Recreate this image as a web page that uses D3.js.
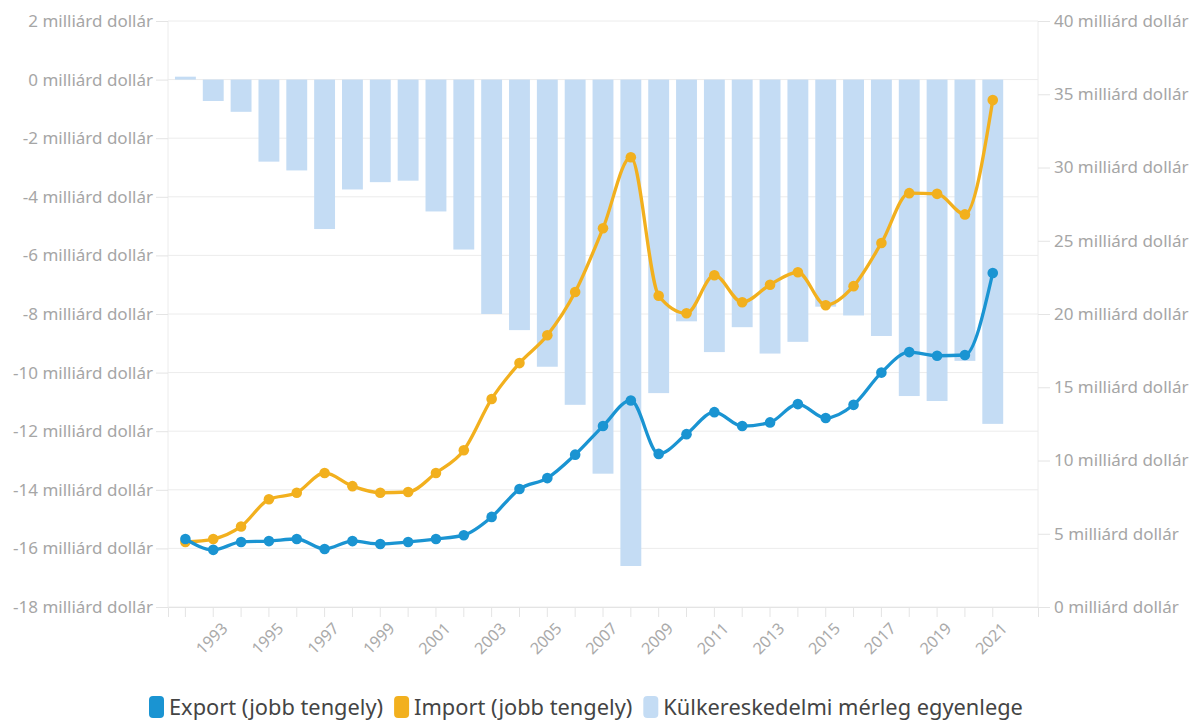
<!DOCTYPE html>
<html>
<head>
<meta charset="utf-8">
<script src="https://cdn.jsdelivr.net/npm/d3@7"></script>
<style>
  body { margin: 0; background: #fff; }
  svg { display: block; font-family: "Noto Sans", sans-serif; }
</style>
</head>
<body>
<svg id="chart" width="1191" height="720"></svg>
<script>
// years on the category axis (one empty slot after 2021, as in the original)
const years = d3.range(1992, 2022);
const xSlots = d3.range(1992, 2023);

// trade balance, billion USD (left axis)
const balance = [0.1, -0.73, -1.1, -2.8, -3.1, -5.1, -3.75, -3.5, -3.45, -4.5,
  -5.8, -8.0, -8.55, -9.8, -11.1, -13.45, -16.6, -10.7, -8.25, -9.3,
  -8.45, -9.35, -8.95, -7.75, -8.05, -8.75, -10.8, -10.97, -9.6, -11.75];

// export / import, billion USD (right axis)
const exportVals = [4.64, 3.9, 4.44, 4.5, 4.64, 3.96, 4.5, 4.3, 4.44, 4.64,
  4.9, 6.15, 8.05, 8.8, 10.4, 12.35, 14.1, 10.45, 11.8, 13.3,
  12.35, 12.6, 13.85, 12.9, 13.8, 16.0, 17.4, 17.15, 17.2, 22.8];
const importVals = [4.44, 4.64, 5.5, 7.35, 7.8, 9.15, 8.25, 7.8, 7.85, 9.15,
  10.7, 14.2, 16.65, 18.55, 21.5, 25.85, 30.7, 21.25, 20.05, 22.65,
  20.8, 22.0, 22.85, 20.6, 21.9, 24.85, 28.25, 28.2, 26.8, 34.6];

const leftTicks = d3.range(-18, 3, 2);
const rightTicks = d3.range(0, 41, 5);
const legendItems = [
  { label: "Export (jobb tengely)", color: "#1a94d2" },
  { label: "Import (jobb tengely)", color: "#f2b01e" },
  { label: "Külkereskedelmi mérleg egyenlege", color: "#c4dcf4" }
];

const margin = { top: 21, left: 168, right: 1038, bottom: 607 };
const svg = d3.select("#chart");

const x = d3.scaleBand().domain(xSlots).range([margin.left, margin.right]).padding(0.25);
const xc = d => x(d) + x.bandwidth() / 2;
const yL = d3.scaleLinear().domain([-18, 2]).range([margin.bottom, margin.top]);
const yR = d3.scaleLinear().domain([0, 40]).range([margin.bottom, margin.top]);

const fmt = v => `${v} milliárd dollár`;

// grid lines
svg.append("g")
  .selectAll("line")
  .data(leftTicks)
  .join("line")
  .attr("x1", margin.left).attr("x2", margin.right)
  .attr("y1", d => yL(d)).attr("y2", d => yL(d))
  .attr("stroke", "#ececec");

// vertical frame lines
svg.append("line").attr("x1", margin.left).attr("x2", margin.left)
  .attr("y1", margin.top).attr("y2", margin.bottom).attr("stroke", "#ececec");
svg.append("line").attr("x1", margin.right).attr("x2", margin.right)
  .attr("y1", margin.top).attr("y2", margin.bottom).attr("stroke", "#ececec");

// left axis
const leftAxis = svg.append("g")
  .attr("transform", `translate(${margin.left},0)`)
  .call(d3.axisLeft(yL).tickValues(leftTicks).tickFormat(fmt).tickSize(12).tickPadding(3));
// right axis
const rightAxis = svg.append("g")
  .attr("transform", `translate(${margin.right},0)`)
  .call(d3.axisRight(yR).tickValues(rightTicks).tickFormat(fmt).tickSize(12).tickPadding(4));
[leftAxis, rightAxis].forEach(a => {
  a.select(".domain").remove();
  a.selectAll(".tick line").attr("stroke", "#e4e4e4");
  a.selectAll(".tick text").attr("fill", "#a6a6a6").style("font-size", "17px")
    .style("font-family", "'Noto Sans', sans-serif");
});

// bottom axis
const xAxis = svg.append("g")
  .attr("transform", `translate(0,${margin.bottom})`)
  .call(d3.axisBottom(x).tickValues(years).tickSize(10)
    .tickFormat(d => (d % 2 === 1 ? d : "")));
xAxis.select(".domain").attr("stroke", "#e4e4e4");
xAxis.selectAll(".tick line").attr("stroke", "#e4e4e4");
xAxis.selectAll(".tick text")
  .attr("fill", "#aaaaaa")
  .style("font-size", "16px")
  .style("font-family", "'Noto Sans', sans-serif")
  .attr("text-anchor", "end")
  .attr("y", 0)
  .attr("dy", "0.75em")
  .attr("transform", "translate(7,14) rotate(-45)");

// bars
svg.append("g")
  .selectAll("rect")
  .data(years)
  .join("rect")
  .attr("x", d => x(d))
  .attr("width", x.bandwidth())
  .attr("y", (d, i) => yL(Math.max(0, balance[i])))
  .attr("height", (d, i) => Math.abs(yL(balance[i]) - yL(0)))
  .attr("fill", "#c4dcf4");

// lines
const drawSeries = (vals, color) => {
  const pts = years.map((yr, i) => [xc(yr), yR(vals[i])]);
  svg.append("path")
    .datum(pts)
    .attr("fill", "none")
    .attr("stroke", color)
    .attr("stroke-width", 3.3)
    .attr("d", d3.line().curve(d3.curveMonotoneX));
  svg.append("g")
    .selectAll("circle")
    .data(pts)
    .join("circle")
    .attr("cx", d => d[0]).attr("cy", d => d[1])
    .attr("r", 5.3)
    .attr("fill", color);
};
drawSeries(importVals, "#f2b01e");
drawSeries(exportVals, "#1a94d2");

// legend
const legend = svg.append("g").attr("transform", "translate(0,707)");
let lx = 149;
legendItems.forEach(item => {
  legend.append("rect")
    .attr("x", lx).attr("y", -11).attr("width", 15).attr("height", 22).attr("rx", 4)
    .attr("fill", item.color);
  const t = legend.append("text")
    .attr("x", lx + 20).attr("y", 0).attr("dy", "0.35em")
    .attr("fill", "#444")
    .style("font-size", "21.8px")
    .text(item.label);
  lx += 20 + t.node().getComputedTextLength() + 11;
});
</script>
</body>
</html>
